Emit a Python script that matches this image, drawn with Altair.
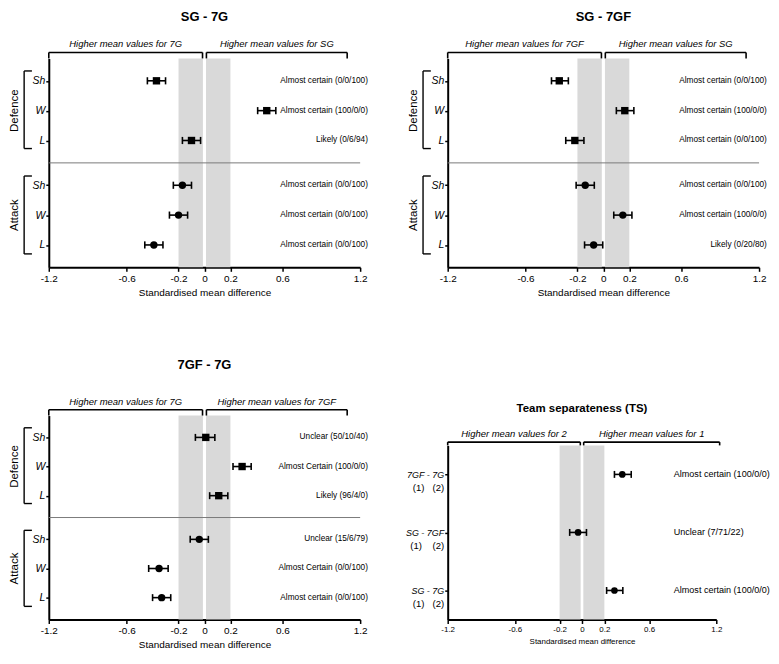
import altair as alt
import pandas as pd

FONT = "Liberation Sans, Arial, Helvetica, sans-serif"
NB = "\u00a0"

# ---------------- data ----------------
x_ticks = [-1.2, -0.6, -0.2, 0, 0.2, 0.6, 1.2]

rows = ["Sh", "W", "L", "Sh", "W", "L"]
groups = ["Defence", "Defence", "Defence", "Attack", "Attack", "Attack"]
row_pos = [0, 1, 2, 3.5, 4.5, 5.5]
shapes_main = ["square", "square", "square", "circle", "circle", "circle"]

# SG - 7G
sg7g_mean = [-0.37, 0.48, -0.10, -0.17, -0.20, -0.39]
sg7g_lo = [-0.44, 0.41, -0.17, -0.24, -0.27, -0.46]
sg7g_hi = [-0.30, 0.55, -0.03, -0.10, -0.13, -0.32]
sg7g_note = ["Almost certain (0/0/100)", "Almost certain (100/0/0)", "Likely (0/6/94)",
             "Almost certain (0/0/100)", "Almost certain (0/0/100)", "Almost certain (0/0/100)"]
sg7g_hdr = ["Higher mean values for 7G", "Higher mean values for SG"]

# SG - 7GF
sg7gf_mean = [-0.34, 0.165, -0.22, -0.14, 0.15, -0.075]
sg7gf_lo = [-0.40, 0.10, -0.29, -0.21, 0.08, -0.145]
sg7gf_hi = [-0.27, 0.235, -0.15, -0.07, 0.22, -0.005]
sg7gf_note = ["Almost certain (0/0/100)", "Almost certain (100/0/0)", "Almost certain (0/0/100)",
              "Almost certain (0/0/100)", "Almost certain (100/0/0)", "Likely (0/20/80)"]
sg7gf_hdr = ["Higher mean values for 7GF", "Higher mean values for SG"]

# 7GF - 7G
gf7g_mean = [0.01, 0.29, 0.11, -0.04, -0.35, -0.33]
gf7g_lo = [-0.07, 0.22, 0.04, -0.11, -0.43, -0.40]
gf7g_hi = [0.08, 0.36, 0.18, 0.03, -0.28, -0.26]
gf7g_note = ["Unclear (50/10/40)", "Almost Certain (100/0/0)", "Likely (96/4/0)",
             "Unclear (15/6/79)", "Almost Certain (0/0/100)", "Almost certain (0/0/100)"]
gf7g_hdr = ["Higher mean values for 7G", "Higher mean values for 7GF"]

# Team separateness
ts_rows = ["7GF - 7G", "SG - 7GF", "SG - 7G"]
ts_sub = ["(1)" + NB * 3 + "(2)", "(1)" + NB * 4 + "(2)", "(1)" + NB * 3 + "(2)"]
ts_pos = [0, 1, 2]
ts_mean = [0.36, -0.035, 0.29]
ts_lo = [0.29, -0.11, 0.22]
ts_hi = [0.44, 0.04, 0.365]
ts_note = ["Almost certain (100/0/0)", "Unclear (7/71/22)", "Almost certain (100/0/0)"]
ts_hdr = ["Higher mean values for 2", "Higher mean values for 1"]


def label_expr(pos, labels):
    parts = [f"datum.value == {p} ? '{l}'" for p, l in zip(pos, labels)]
    return " : ".join(parts) + " : ''"


def make_panel(title, pos, labels, means, lows, highs, notes, shapes, hdr, cfg):
    ydom = cfg["ydom"]
    xs = alt.Scale(domain=[-1.2, 1.2], nice=False, zero=False)
    ys = alt.Scale(domain=ydom, nice=False, zero=False, reverse=True)
    xaxis = alt.Axis(values=x_ticks, labelExpr="'' + datum.value", grid=False,
                     domainColor="black", domainWidth=2, tickColor="black", tickWidth=1.5,
                     tickSize=4, labelFontSize=cfg["tick_fs"], titleFontSize=cfg["axt_fs"],
                     titleFontWeight="normal", labelColor="black", titleColor="black",
                     labelPadding=2, titlePadding=4, labelFont=FONT, titleFont=FONT,
                     labelFlush=False, labelOverlap=False)
    yaxis = alt.Axis(values=pos, labelExpr=label_expr(pos, labels), grid=False,
                     domainColor="black", domainWidth=2, tickColor="black", tickWidth=1.5,
                     tickSize=3, labelFontSize=cfg["ylab_fs"], labelFontStyle="italic",
                     labelColor="black", labelPadding=1, labelFont=FONT, labelOverlap=False)

    def X(f):
        return alt.X(f, type="quantitative", scale=xs, axis=xaxis,
                     title="Standardised mean difference")

    def Y(f):
        return alt.Y(f, type="quantitative", scale=ys, axis=yaxis, title=None)

    df = pd.DataFrame({"pos": pos, "label": labels, "mean": means, "lo": lows,
                       "hi": highs, "note": notes, "shape": shapes})
    df["ct"] = df["pos"] - cfg["cap"]
    df["cb"] = df["pos"] + cfg["cap"]

    layers = []
    band = pd.DataFrame({"x": [-0.2, 0.012], "x2": [-0.012, 0.2],
                         "y": [ydom[0]] * 2, "y2": [ydom[1]] * 2})
    layers.append(alt.Chart(band).mark_rect(color="#d9d9d9").encode(
        x=X("x"), x2="x2", y=Y("y"), y2="y2"))

    if cfg.get("sep") is not None:
        sep = pd.DataFrame({"x": [-1.2], "x2": [1.2], "y": [cfg["sep"]]})
        layers.append(alt.Chart(sep).mark_rule(color="#7a7a7a", strokeWidth=1).encode(
            x=X("x"), x2="x2", y=Y("y")))

    base = alt.Chart(df)
    layers.append(base.mark_rule(color="black", strokeWidth=1.6).encode(
        x=X("lo"), x2="hi", y=Y("pos")))
    layers.append(base.mark_rule(color="black", strokeWidth=1.6).encode(
        x=X("lo"), y=Y("ct"), y2="cb"))
    layers.append(base.mark_rule(color="black", strokeWidth=1.6).encode(
        x=X("hi"), y=Y("ct"), y2="cb"))
    layers.append(base.mark_point(filled=True, color="black", opacity=1,
                                  size=cfg["msize"]).encode(
        x=X("mean"), y=Y("pos"),
        shape=alt.Shape("shape:N", scale=None, legend=None)))
    layers.append(base.mark_text(align=cfg["note_align"], baseline="middle",
                                 fontSize=cfg["note_fs"], font=FONT, color="black").encode(
        x=alt.X("nx:Q", scale=xs, axis=xaxis, title="Standardised mean difference"),
        y=Y("pos"), text="note").transform_calculate(nx=str(cfg["note_x"])))

    # top brackets
    rend = cfg["br_right"]
    th = pd.DataFrame({"x": [-1.2, 0.015], "x2": [-0.015, rend], "y": [cfg["br_y"]] * 2})
    layers.append(alt.Chart(th).mark_rule(color="black", strokeWidth=1.6).encode(
        x=X("x"), x2="x2", y=Y("y")))
    tt = pd.DataFrame({"x": [-1.2, -0.015, 0.015, rend], "y": [cfg["br_y"]] * 4,
                       "y2": [ydom[0]] * 4})
    layers.append(alt.Chart(tt).mark_rule(color="black", strokeWidth=1.6).encode(
        x=X("x"), y=Y("y"), y2="y2"))
    hd = pd.DataFrame({"x": [(-1.2 - 0.015) / 2, (0.015 + rend) / 2],
                       "y": [cfg["hdr_y"]] * 2, "t": hdr})
    layers.append(alt.Chart(hd).mark_text(fontStyle="italic", fontSize=cfg["hdr_fs"],
                                          font=FONT, color="black", baseline="middle").encode(
        x=X("x"), y=Y("y"), text="t"))
    # title
    tdf = pd.DataFrame({"x": [0], "y": [cfg["title_y"]], "t": [title]})
    layers.append(alt.Chart(tdf).mark_text(fontWeight="bold", fontSize=cfg["title_fs"],
                                           font=FONT, color="black", baseline="middle").encode(
        x=X("x"), y=Y("y"), text="t"))

    # group brackets (Defence / Attack)
    if cfg.get("groups"):
        gx, gx2, glx = -1.39, -1.33, -1.46
        g_names = ["Defence", "Attack"]
        g_top = [-0.33, 3.19]
        g_bot = [2.27, 5.8]
        g_mid = [1, 4.5]
        gv = pd.DataFrame({"x": [gx] * 2, "y": g_top, "y2": g_bot})
        layers.append(alt.Chart(gv).mark_rule(color="black", strokeWidth=1.4).encode(
            x=X("x"), y=Y("y"), y2="y2"))
        gh = pd.DataFrame({"x": [gx] * 4, "x2": [gx2] * 4, "y": g_top + g_bot})
        layers.append(alt.Chart(gh).mark_rule(color="black", strokeWidth=1.4).encode(
            x=X("x"), x2="x2", y=Y("y")))
        gl = pd.DataFrame({"x": [glx] * 2, "y": g_mid, "t": g_names})
        layers.append(alt.Chart(gl).mark_text(angle=270, fontSize=11.5, font=FONT,
                                              color="black", baseline="middle").encode(
            x=X("x"), y=Y("y"), text="t"))

    if cfg.get("sub"):
        sd = pd.DataFrame({"x": [-1.232] * len(pos), "y": [p + 0.23 for p in pos],
                           "t": cfg["sub"]})
        layers.append(alt.Chart(sd).mark_text(align="right", baseline="middle",
                                              fontSize=9.6, font=FONT, color="black").encode(
            x=X("x"), y=Y("y"), text="t"))

    return alt.layer(*layers).properties(width=cfg["w"], height=cfg["h"])


main_cfg = dict(w=313, h=210, ydom=[-0.75, 6.25], tick_fs=10, axt_fs=10, ylab_fs=10.5,
                cap=0.12, msize=55, note_fs=8.3, note_align="right", note_x=1.26,
                br_right=1.1, br_y=-0.95, hdr_y=-1.22, hdr_fs=9.5, title_y=-2.15,
                title_fs=13, sep=2.75, groups=True)

cfg1 = dict(main_cfg)
cfg2 = dict(main_cfg, note_x=1.26)
cfg3 = dict(main_cfg, h=205, title_y=-2.48)
cfg4 = dict(w=270, h=175, ydom=[-0.5, 2.5], tick_fs=8, axt_fs=8, ylab_fs=9,
            cap=0.06, msize=45, note_fs=9.1, note_align="left", note_x=0.82,
            br_right=1.23, br_y=-0.557, hdr_y=-0.70, hdr_fs=9.5, title_y=-1.12,
            title_fs=11.5, sep=None, groups=False, sub=ts_sub)

p1 = make_panel("SG - 7G", row_pos, rows, sg7g_mean, sg7g_lo, sg7g_hi, sg7g_note,
                shapes_main, sg7g_hdr, cfg1)
p2 = make_panel("SG - 7GF", row_pos, rows, sg7gf_mean, sg7gf_lo, sg7gf_hi, sg7gf_note,
                shapes_main, sg7gf_hdr, cfg2)
p3 = make_panel("7GF - 7G", row_pos, rows, gf7g_mean, gf7g_lo, gf7g_hi, gf7g_note,
                shapes_main, gf7g_hdr, cfg3)
p4 = make_panel("Team separateness (TS)", ts_pos, ts_rows, ts_mean, ts_lo, ts_hi, ts_note,
                ["circle"] * 3, ts_hdr, cfg4)

left = alt.vconcat(p1, p3, spacing=149, bounds="flush")
right = alt.vconcat(p2, p4, spacing=179, bounds="flush")
chart = alt.hconcat(left, right, spacing=401, bounds="flush").properties(
    padding=0, background="white"
).configure_view(stroke="transparent").resolve_scale(x="independent", y="independent")

chart.save("out.html", embed_options={"renderer": "svg", "actions": False})
